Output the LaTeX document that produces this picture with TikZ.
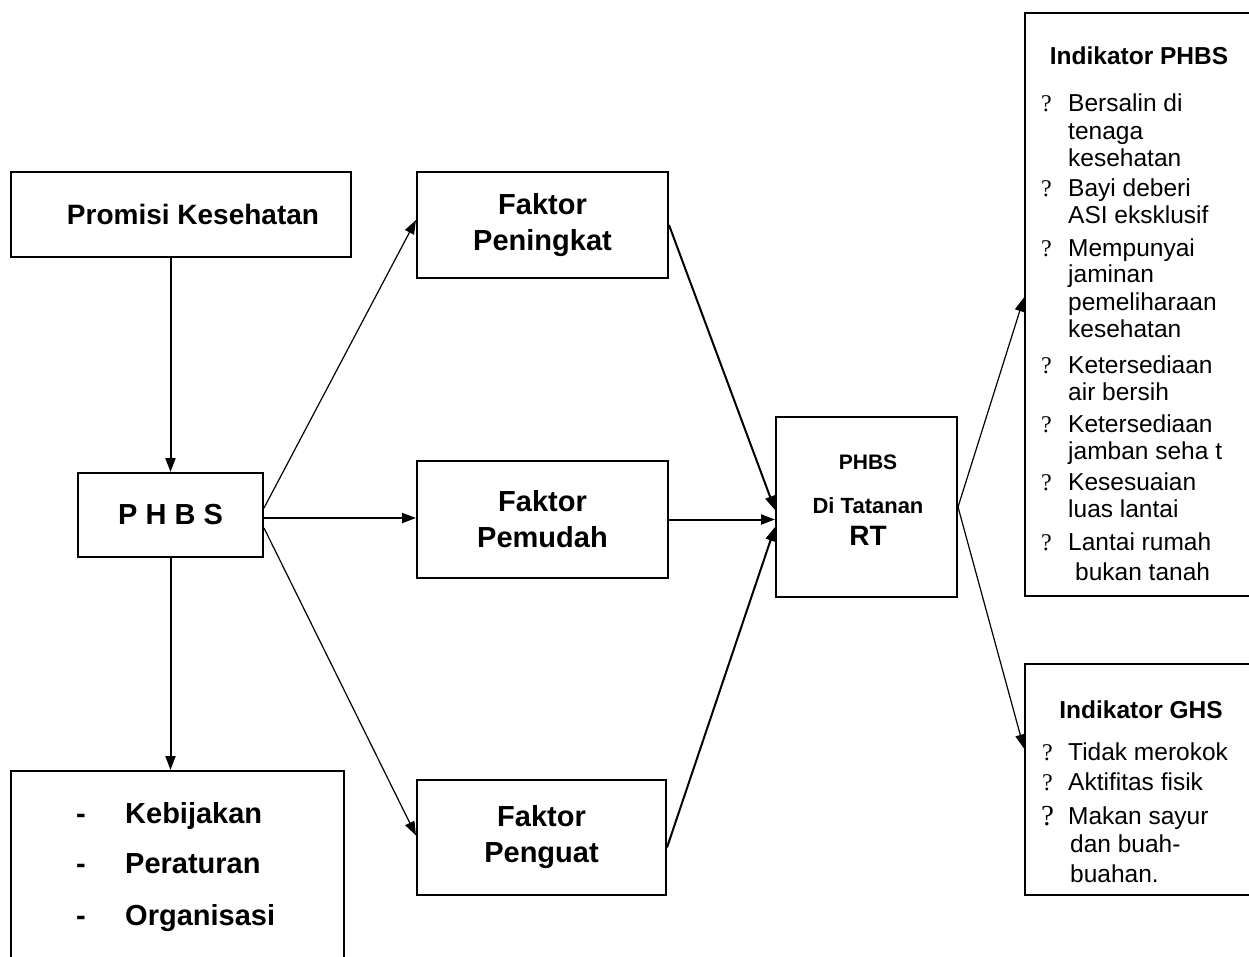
\documentclass[tikz,border=0pt]{standalone}
\usepackage{fontspec}
\setmainfont{Liberation Sans}
\newfontfamily\qfont{Liberation Serif}
\usetikzlibrary{arrows.meta,calc}
\tikzset{
  box/.style={draw, line width=2pt, rectangle, inner sep=0pt, align=center},
  big/.style={font=\fontsize{29}{36}\selectfont\bfseries},
  arr/.style={line width=2pt, -{Triangle[length=14pt,width=10pt]}},
  arrthin/.style={line width=1.2pt, -{Triangle[length=14pt,width=10pt]}},
  item/.style={anchor=base west, inner sep=0pt, font=\fontsize{24.5}{27}\selectfont},
  qm/.style={anchor=base west, inner sep=0pt, font=\fontsize{24}{26}\selectfont\qfont},
  head/.style={anchor=base, inner sep=0pt, font=\fontsize{24.5}{27}\selectfont\bfseries},
}
\begin{document}
\begin{tikzpicture}[x=1pt,y=-1pt]
\useasboundingbox (0,0) rectangle (1249,957);
% boxes
\node[box, minimum width=340pt, minimum height=85pt, font=\fontsize{28}{34}\selectfont\bfseries] (promo) at (181,214.5) {\hspace*{24pt}Promisi Kesehatan};
\node[box, big, minimum width=185pt, minimum height=84pt] (phbs) at (170.5,515) {P H B S};
\node[box, minimum width=333pt, minimum height=219pt] (policy) at (177.5,880.5) {};
\node[box, big, minimum width=251pt, minimum height=106pt] (peningkat) at (542.5,225) {Faktor\\Peningkat};
\node[box, big, minimum width=251pt, minimum height=117pt] (pemudah) at (542.5,519.5) {Faktor\\Pemudah};
\node[box, big, minimum width=249pt, minimum height=115pt] (penguat) at (541.5,837.5) {Faktor\\Penguat};
\node[box, minimum width=181pt, minimum height=180pt] (rt) at (866.5,507) {};
\node[box, minimum width=237pt, minimum height=583pt] (indphbs) at (1143.5,304.5) {};
\node[box, minimum width=237pt, minimum height=231pt] (indghs) at (1143.5,779.5) {};
% policy text
\begin{scope}[every node/.style={anchor=base west, inner sep=0pt, font=\fontsize{29}{36}\selectfont\bfseries}]
\node (d1) at (76,823) {-}; \node (p1) at (125,823) {Kebijakan};
\node (d2) at (76,873) {-}; \node (p2) at (125,873) {Peraturan};
\node (d3) at (76,925) {-}; \node (p3) at (125,925) {Organisasi};
\end{scope}
% RT text
\node[anchor=base, inner sep=0pt, font=\fontsize{21}{25}\selectfont\bfseries] (rt1) at (868,469) {PHBS};
\node[anchor=base, inner sep=0pt, font=\fontsize{22}{26}\selectfont\bfseries] (rt2) at (868,513) {Di Tatanan};
\node[anchor=base, inner sep=0pt, font=\fontsize{28}{32}\selectfont\bfseries] (rt3) at (868,545) {RT};
% Indikator PHBS
\node[head] (h1) at (1139,65) {Indikator PHBS};
\node[qm] (q1) at (1041,112) {?}; \node[item] (a1) at (1068,112) {Bersalin di};
\node[item] (a2) at (1068,140) {tenaga};
\node[item] (a3) at (1068,167) {kesehatan};
\node[qm] (q2) at (1041,197) {?}; \node[item] (b1) at (1068,197) {Bayi deberi};
\node[item] (b2) at (1068,224) {ASI eksklusif};
\node[qm] (q3) at (1041,257) {?}; \node[item] (c1) at (1068,257) {Mempunyai};
\node[item] (c2) at (1068,283) {jaminan};
\node[item] (c3) at (1068,310) {pemeliharaan};
\node[item] (c4) at (1068,337) {kesehatan};
\node[qm] (q4) at (1041,373) {?}; \node[item] (e1) at (1068,373) {Ketersediaan};
\node[item] (e2) at (1068,400) {air bersih};
\node[qm] (q5) at (1041,432) {?}; \node[item] (f1) at (1068,432) {Ketersediaan};
\node[item] (f2) at (1068,459) {jamban seha t};
\node[qm] (q6) at (1041,490) {?}; \node[item] (g1) at (1068,490) {Kesesuaian};
\node[item] (g2) at (1068,517) {luas lantai};
\node[qm] (q7) at (1041,550) {?}; \node[item] (k1) at (1068,550) {Lantai rumah};
\node[item] (k2) at (1075,580) {bukan tanah};
% Indikator GHS
\node[head] (h2) at (1141,718) {Indikator GHS};
\node[qm] (r1) at (1042,760) {?}; \node[item] (s1) at (1068,760) {Tidak merokok};
\node[qm] (r2) at (1042,790) {?}; \node[item] (s2) at (1068,790) {Aktifitas fisik};
\node[qm, font=\fontsize{29}{30}\selectfont\qfont] (r3) at (1041,825) {?}; \node[item] (s3) at (1068,824) {Makan sayur};
\node[item] (s4) at (1070,852) {dan buah-};
\node[item] (s5) at (1070,882) {buahan.};
% connectors
\draw[arr] (phbs.north |- promo.south) -- (phbs.north);
\draw[arr] (phbs.south) -- (phbs.south |- policy.north);
\draw[arr] ([yshift=-3pt]phbs.east) -- ([yshift=-3pt]phbs.east -| pemudah.west);
\draw[arrthin] ([yshift=7pt]phbs.east) -- ([yshift=5pt]peningkat.west);
\draw[arrthin] ([yshift=-13pt]phbs.east) -- ([yshift=2pt]penguat.west);
\draw[arr] (peningkat.east) -- ([yshift=-3pt]rt.west);
\draw[arr] (pemudah.east) -- (pemudah.east -| rt.west);
\draw[arr] ([yshift=-10pt]penguat.east) -- ([yshift=-20pt]rt.west);
\draw[arrthin] (rt.east) -- ([yshift=7pt]indphbs.west);
\draw[arrthin] (rt.east) -- ([yshift=31pt]indghs.west);
\end{tikzpicture}
\end{document}
